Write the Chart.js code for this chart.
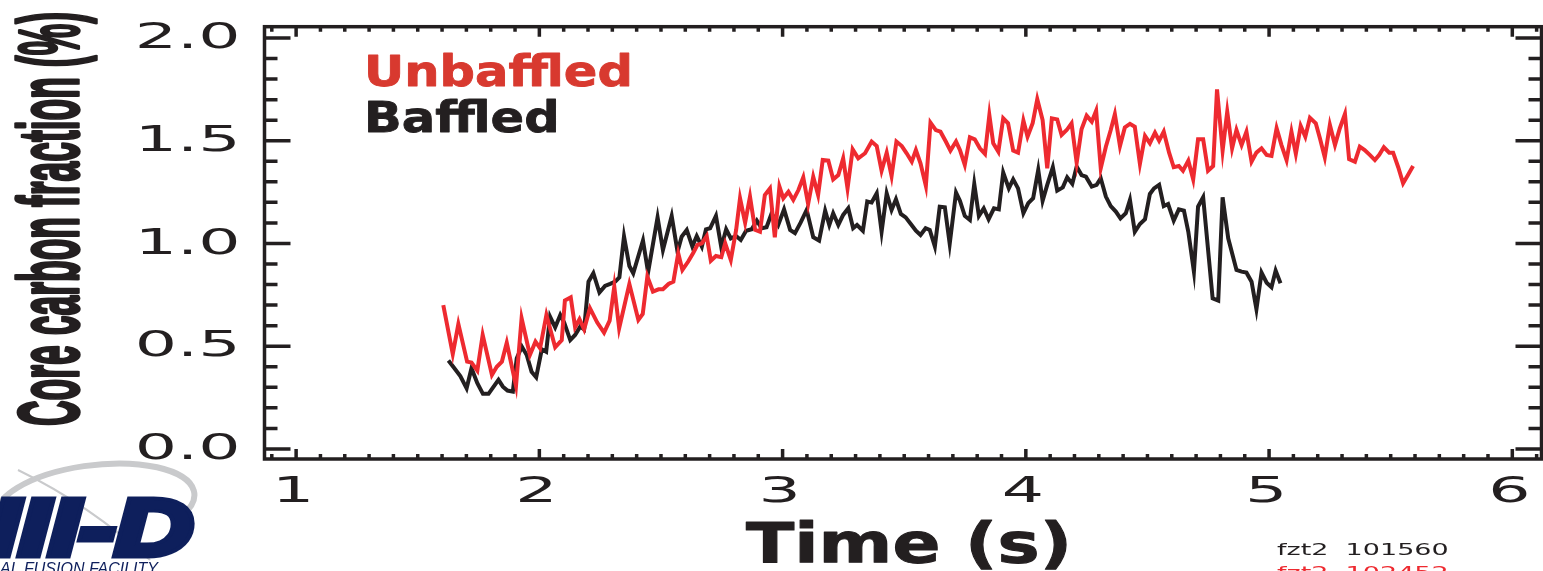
<!DOCTYPE html>
<html><head><meta charset="utf-8">
<style>html,body{margin:0;padding:0;background:#fff;overflow:hidden}#wrap{width:1543px;height:571px;position:relative}</style>
<script src="https://cdn.jsdelivr.net/npm/chart.js@4.4.1/dist/chart.umd.min.js"></script>
</head><body><div id="wrap"><canvas id="c" width="1543" height="571"></canvas></div>
<script>
// ---- data ----
const unbaffledTime = [
1.605,1.644,1.667,1.703,1.721,1.745,1.767,1.805,1.825,1.846,
1.866,1.904,1.927,1.961,1.984,2.003,2.029,2.065,2.092,2.105,
2.129,2.147,2.165,2.184,2.208,2.238,2.266,2.289,2.308,2.328,
2.370,2.407,2.425,2.444,2.467,2.490,2.508,2.531,2.551,2.571,
2.588,2.612,2.633,2.650,2.668,2.688,2.705,2.726,2.748,2.764,
2.787,2.809,2.825,2.846,2.866,2.887,2.907,2.927,2.948,2.968,
2.987,3.003,3.024,3.044,3.065,3.085,3.105,3.126,3.146,3.165,
3.188,3.208,3.229,3.249,3.267,3.288,3.311,3.339,3.366,3.387,
3.407,3.428,3.448,3.468,3.490,3.510,3.531,3.548,3.567,3.589,
3.608,3.630,3.649,3.671,3.690,3.713,3.729,3.749,3.770,3.790,
3.811,3.832,3.850,3.866,3.887,3.907,3.927,3.948,3.968,3.990,
4.007,4.028,4.047,4.069,4.088,4.107,4.129,4.147,4.168,4.188,
4.209,4.229,4.250,4.271,4.289,4.308,4.329,4.349,4.366,4.387,
4.407,4.428,4.448,4.469,4.490,4.510,4.531,4.548,4.567,4.589,
4.608,4.629,4.646,4.668,4.688,4.708,4.729,4.749,4.770,4.786,
4.809,4.828,4.848,4.866,4.887,4.907,4.928,4.948,4.969,4.990,
5.010,5.031,5.051,5.072,5.092,5.110,5.130,5.149,5.168,5.192,
5.209,5.229,5.250,5.271,5.291,5.312,5.329,5.353,5.373,5.393,
5.414,5.435,5.453,5.472,5.494,5.510,5.531,5.551,5.571,5.592];
const unbaffledValue = [
0.700,0.462,0.608,0.425,0.420,0.381,0.555,0.360,0.400,0.425,
0.517,0.307,0.636,0.457,0.522,0.490,0.652,0.495,0.530,0.722,
0.738,0.592,0.631,0.582,0.685,0.615,0.566,0.624,0.790,0.587,
0.803,0.628,0.657,0.839,0.766,0.777,0.777,0.803,0.814,0.952,
0.871,0.912,0.955,0.993,1.001,1.036,0.916,0.939,0.933,1.001,
0.920,1.066,1.220,1.101,1.228,1.066,1.057,1.236,1.268,1.030,
1.277,1.220,1.252,1.212,1.260,1.322,1.192,1.325,1.236,1.406,
1.403,1.312,1.333,1.414,1.268,1.458,1.414,1.439,1.496,1.474,
1.354,1.442,1.328,1.496,1.474,1.439,1.398,1.455,1.390,1.280,
1.588,1.552,1.544,1.496,1.452,1.496,1.455,1.382,1.517,1.507,
1.463,1.436,1.625,1.488,1.447,1.609,1.585,1.452,1.442,1.598,
1.520,1.585,1.702,1.601,1.366,1.609,1.604,1.528,1.552,1.585,
1.393,1.556,1.622,1.593,1.646,1.366,1.471,1.552,1.629,1.474,
1.565,1.582,1.568,1.387,1.523,1.488,1.539,1.500,1.544,1.442,
1.371,1.377,1.354,1.403,1.312,1.507,1.507,1.354,1.377,1.750,
1.452,1.641,1.463,1.552,1.479,1.544,1.398,1.442,1.463,1.431,
1.426,1.561,1.479,1.406,1.544,1.436,1.572,1.520,1.612,1.585,
1.512,1.419,1.577,1.479,1.561,1.630,1.410,1.398,1.471,1.455,
1.431,1.406,1.431,1.468,1.442,1.442,1.371,1.293,1.333,1.377];
const baffledTime = [
1.626,1.646,1.675,1.701,1.721,1.745,1.768,1.791,1.812,1.832,
1.850,1.869,1.891,1.907,1.928,1.948,1.968,1.987,2.010,2.028,
2.044,2.065,2.086,2.102,2.127,2.147,2.168,2.184,2.202,2.222,
2.247,2.270,2.291,2.312,2.329,2.348,2.370,2.386,2.426,2.447,
2.486,2.508,2.544,2.568,2.585,2.606,2.629,2.647,2.668,2.685,
2.702,2.726,2.748,2.768,2.787,2.809,2.828,2.850,2.873,2.894,
2.914,2.934,2.955,2.982,3.006,3.031,3.051,3.074,3.099,3.126,
3.150,3.175,3.192,3.208,3.229,3.249,3.270,3.290,3.306,3.330,
3.348,3.366,3.387,3.407,3.428,3.448,3.466,3.486,3.506,3.527,
3.548,3.567,3.588,3.605,3.626,3.646,3.667,3.687,3.713,3.729,
3.749,3.770,3.788,3.807,3.827,3.847,3.869,3.889,3.907,3.930,
3.948,3.968,3.990,4.010,4.030,4.051,4.069,4.088,4.111,4.129,
4.152,4.170,4.191,4.209,4.229,4.247,4.271,4.291,4.308,4.329,
4.349,4.370,4.389,4.411,4.428,4.448,4.469,4.490,4.510,4.527,
4.548,4.567,4.585,4.608,4.629,4.650,4.668,4.691,4.708,4.729,
4.768,4.791,4.809,4.832,4.866,4.887,4.907,4.928,4.948,4.969,
4.990,5.010,5.027,5.047];
const baffledValue = [
0.430,0.400,0.355,0.295,0.393,0.320,0.268,0.268,0.303,0.336,
0.303,0.284,0.279,0.441,0.498,0.457,0.376,0.349,0.485,0.473,
0.644,0.592,0.652,0.615,0.530,0.555,0.595,0.582,0.814,0.855,
0.761,0.793,0.803,0.814,0.835,1.035,0.890,0.855,1.015,0.860,
1.127,0.968,1.134,0.960,1.033,1.066,0.985,1.036,0.985,1.069,
1.074,1.134,0.981,1.069,1.025,1.036,1.017,1.062,1.069,1.111,
1.074,1.079,1.147,1.090,1.166,1.066,1.050,1.101,1.163,1.030,
1.014,1.160,1.090,1.147,1.090,1.139,1.171,1.074,1.090,1.062,
1.204,1.199,1.244,1.057,1.244,1.163,1.215,1.144,1.127,1.095,
1.062,1.041,1.074,1.066,0.985,1.179,1.176,0.998,1.248,1.208,
1.134,1.114,1.290,1.134,1.171,1.118,1.171,1.166,1.345,1.268,
1.312,1.268,1.147,1.196,1.220,1.358,1.208,1.285,1.371,1.257,
1.273,1.322,1.290,1.374,1.333,1.325,1.277,1.285,1.317,1.228,
1.182,1.155,1.122,1.147,1.212,1.057,1.095,1.118,1.241,1.268,
1.285,1.182,1.192,1.111,1.166,1.160,1.057,0.863,1.179,1.225,
0.733,0.722,1.225,1.025,0.871,0.863,0.858,0.814,0.680,0.858,
0.809,0.787,0.868,0.806];
const seriesLabels = ['Unbaffled', 'Baffled'];
const xTickValues = [1, 2, 3, 4, 5, 6];
const xTickLabels = ['1', '2', '3', '4', '5', '6'];
const yTickValues = [0, 0.5, 1.0, 1.5, 2.0];
const yTickLabels = ['0.0', '0.5', '1.0', '1.5', '2.0'];
const xTitle = 'Time (s)';
const yTitle = 'Core carbon fraction (%)';
const shotLabels = ['fzt2  101560', 'fzt2  102452'];
const logoText = 'III-D';
const logoSub = 'AL FUSION FACILITY';

// ---- styling ----
const INK = '#231f20';
const RED_LINE = '#ee2a30';
const RED_TEXT = '#d8392f';
const NAVY = '#0e1f5c';

function toPoints(ts, vs) { return ts.map((t, i) => ({x: t, y: vs[i]})); }

function stretchText(ctx, text, x, y, font, color, sx, align, baseline, bold) {
  ctx.save();
  ctx.font = font; ctx.fillStyle = color;
  ctx.textAlign = align || 'left'; ctx.textBaseline = baseline || 'alphabetic';
  ctx.translate(x, y); ctx.scale(sx, 1);
  if (bold) { ctx.strokeStyle = color; ctx.lineWidth = bold; ctx.lineJoin = 'round'; ctx.strokeText(text, 0, 0); }
  ctx.fillText(text, 0, 0);
  ctx.restore();
}

const frameTicks = {
  id: 'frameTicks',
  afterDraw(chart) {
    const {ctx, chartArea: a, scales: {x, y}} = chart;
    ctx.save();
    ctx.strokeStyle = INK; ctx.lineWidth = 3.5; ctx.lineCap = 'butt'; ctx.lineJoin = 'miter';
    ctx.strokeRect(a.left, a.top, a.right - a.left, a.bottom - a.top);
    ctx.beginPath();
    for (let k = Math.ceil(x.min * 10 - 1e-6); k <= Math.floor(x.max * 10 + 1e-6); k++) {
      const px = x.getPixelForValue(k / 10);
      const len = (k % 10 === 0) ? 10 : 5;
      ctx.moveTo(px, a.bottom); ctx.lineTo(px, a.bottom - len);
      ctx.moveTo(px, a.top); ctx.lineTo(px, a.top + len);
    }
    for (let k = Math.ceil(y.min * 10 - 1e-6); k <= Math.floor(y.max * 10 + 1e-6); k++) {
      const py = y.getPixelForValue(k / 10);
      const len = (k % 5 === 0) ? 26 : 13;
      ctx.moveTo(a.left, py); ctx.lineTo(a.left + len, py);
      ctx.moveTo(a.right, py); ctx.lineTo(a.right - len, py);
    }
    ctx.stroke();
    ctx.restore();
  }
};

const textLayer = {
  id: 'textLayer',
  afterDraw(chart) {
    const {ctx, chartArea: a, scales: {x, y}} = chart;
    // tick labels
    const tickFont = '35px "DejaVu Sans", sans-serif';
    xTickValues.forEach((v, i) => {
      stretchText(ctx, xTickLabels[i], x.getPixelForValue(v) - 3, 493, tickFont, INK, 1.9, 'center', 'middle');
    });
    yTickValues.forEach((v, i) => {
      stretchText(ctx, yTickLabels[i], a.left - 24, y.getPixelForValue(v) + 1, tickFont, INK, 1.9, 'right', 'middle');
    });
    // legend (dataset labels in their colours)
    chart.data.datasets.forEach((ds, i) => {
      stretchText(ctx, ds.label, 364, 86 + i * 46, 'bold 42px "DejaVu Sans", sans-serif', ds.textColor, 1.18, 'left', 'alphabetic', 0.8);
    });
    // x title
    ctx.save();
    ctx.font = 'bold 56px "DejaVu Sans", sans-serif';
    const wx = ctx.measureText(xTitle).width;
    ctx.restore();
    stretchText(ctx, xTitle, 746, 562, 'bold 56px "DejaVu Sans", sans-serif', INK, 326 / wx, 'left', 'alphabetic', 1);
    // y title (condensed, rotated)
    ctx.save();
    ctx.font = 'bold 86px "Liberation Sans Narrow", "Liberation Sans", sans-serif';
    const wy = ctx.measureText(yTitle).width;
    ctx.fillStyle = INK; ctx.strokeStyle = INK; ctx.lineWidth = 3.5; ctx.lineJoin = 'round';
    ctx.textAlign = 'left'; ctx.textBaseline = 'alphabetic';
    ctx.translate(78, 426); ctx.rotate(-Math.PI / 2); ctx.scale(414 / wy, 1);
    ctx.strokeText(yTitle, 0, 0);
    ctx.fillText(yTitle, 0, 0);
    ctx.restore();
    // shot labels
    stretchText(ctx, shotLabels[0], 1277, 555, '15px "DejaVu Sans", sans-serif', INK, 1.8, 'left', 'alphabetic');
    stretchText(ctx, shotLabels[1], 1277, 577.5, '15px "DejaVu Sans", sans-serif', RED_LINE, 1.8, 'left', 'alphabetic');
    // logo
    ctx.save();
    ctx.strokeStyle = '#c9cacc'; ctx.lineWidth = 6;
    ctx.beginPath();
    ctx.ellipse(95, 505, 100, 40, -0.12, Math.PI * 0.98, Math.PI * 2.18);
    ctx.stroke();
    ctx.lineWidth = 2;
    ctx.beginPath();
    ctx.moveTo(18, 470); ctx.quadraticCurveTo(90, 505, 150, 560);
    ctx.stroke();
    ctx.restore();
    ctx.save();
    ctx.font = 'bold italic 80px "Liberation Sans", sans-serif';
    ctx.fillStyle = NAVY; ctx.strokeStyle = NAVY; ctx.lineWidth = 7; ctx.lineJoin = 'miter';
    ctx.textAlign = 'right';
    ctx.translate(193, 555); ctx.scale(1.35, 1);
    ctx.strokeText(logoText, 0, 0); ctx.fillText(logoText, 0, 0);
    ctx.restore();
    stretchText(ctx, logoSub, 0, 574, 'italic 16px "Liberation Sans", sans-serif', NAVY, 1.0, 'left', 'alphabetic');
  }
};

new Chart(document.getElementById('c'), {
  type: 'line',
  data: {
    datasets: [
      {label: seriesLabels[0], data: toPoints(unbaffledTime, unbaffledValue), borderColor: RED_LINE, textColor: RED_TEXT,
       borderWidth: 4, pointRadius: 0, tension: 0, fill: false, borderJoinStyle: 'miter'},
      {label: seriesLabels[1], data: toPoints(baffledTime, baffledValue), borderColor: INK, textColor: INK,
       borderWidth: 4, pointRadius: 0, tension: 0, fill: false, borderJoinStyle: 'miter'}
    ]
  },
  options: {
    responsive: false, animation: false, devicePixelRatio: 1,
    layout: {padding: {left: 0, right: 1.5, top: 26.7, bottom: 0}},
    plugins: {legend: {display: false}, tooltip: {enabled: false}},
    scales: {
      x: {type: 'linear', min: 0.87, max: 6.12,
          grid: {display: false}, border: {display: false}, ticks: {display: false},
          afterBuildTicks: s => { s.ticks = xTickValues.map(v => ({value: v})); },
          afterFit: s => { s.height = 112; }},
      y: {type: 'linear', min: -0.049, max: 2.055,
          grid: {display: false}, border: {display: false}, ticks: {display: false},
          afterBuildTicks: s => { s.ticks = yTickValues.map(v => ({value: v})); },
          afterFit: s => { s.width = 264.5; }}
    }
  },
  plugins: [frameTicks, textLayer]
});
</script>
</body></html>
